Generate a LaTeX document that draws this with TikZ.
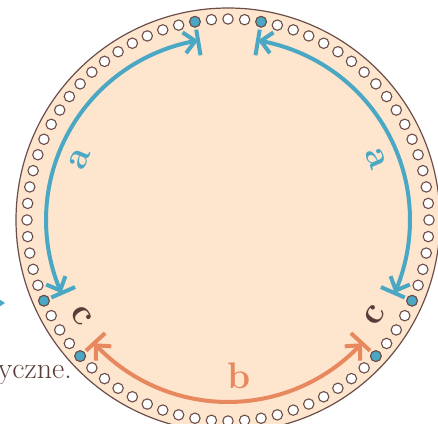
\documentclass[tikz,border=0pt]{standalone}
\usepackage{tikz}
\usetikzlibrary{arrows.meta,bending}
\definecolor{rimbrown}{HTML}{6B4E4A}
\definecolor{plate}{HTML}{FDE5CE}
\definecolor{pinblue}{HTML}{4BA8C4}
\definecolor{cordorange}{HTML}{E8885E}
\definecolor{labelbrown}{HTML}{5A3C39}
\newcommand{\hstep}{4.7368}% 76 holes round the rim

\begin{document}
\begin{tikzpicture}[x=1pt,y=1pt,
  hole/.style={draw=rimbrown,line width=1.1pt,fill=white},
  pin/.style={draw=rimbrown,line width=1.1pt,fill=pinblue},
  barbs/.style={{Straight Barb[length=11pt,width=21pt]}-{Straight Barb[length=11pt,width=21pt]}},
  spanblue/.style={draw=pinblue,line width=4pt,barbs},
  spanorange/.style={draw=cordorange,line width=4pt,barbs},
  tickblue/.style={draw=pinblue,line width=4pt},
  tickorange/.style={draw=cordorange,line width=4pt},
  lbl/.style={font=\fontsize{37}{40}\selectfont\bfseries,inner sep=0pt}]
\useasboundingbox (0,0) rectangle (438,423);
\clip (0,0) rectangle (438,423);
\coordinate (O) at (228,203);
% plate and rim:
\path[draw=rimbrown,line width=1.2pt,fill=plate] (O) circle[radius=212];
\foreach \k in {0,...,75}
  \path[hole] (O) ++({90+\k*\hstep}:201) circle[radius=5.2];
\foreach \k in {2,-2,24,-24,28,-28}
  \path[pin] (O) ++({90+\k*\hstep}:201) circle[radius=5.4];
% ticks at the pins:
\foreach \k in {2,-2,24,-24}
  \draw[tickblue] (O) ++({90+\k*\hstep}:167) -- ++({90+\k*\hstep}:26);
\foreach \k in {28,-28}
  \draw[tickorange] (O) ++({90+\k*\hstep}:167) -- ++({90+\k*\hstep}:26);
% spans:
\draw[spanblue] (O) ++({90+24*\hstep}:182) arc[start angle={90+24*\hstep},end angle={90+2*\hstep},radius=182];
\draw[spanblue] (O) ++({90-2*\hstep}:182) arc[start angle={90-2*\hstep},end angle={90-24*\hstep},radius=182];
\draw[spanorange] (O) ++({90+28*\hstep}:182) arc[start angle={90+28*\hstep},end angle={450-28*\hstep},radius=182];
% labels:
\node[lbl,text=pinblue,rotate=67.5] (aleft) at ([shift={(157.5:160)}]O) {a};
\node[lbl,text=pinblue,rotate=-67.5] (aright) at ([shift={(22.5:160)}]O) {a};
\node[lbl,text=cordorange] (bbottom) at ([shift={(-86:156)}]O) {b};
\node[lbl,text=labelbrown,rotate=-56.8] (cleft) at ([shift={({90+26*\hstep}:175)}]O) {c};
\node[lbl,text=labelbrown,rotate=56.8] (cright) at ([shift={({90-26*\hstep}:175)}]O) {c};
% cut-off pieces at the left edge:
\node[anchor=base east,text=labelbrown,font=\fontsize{30}{33}\selectfont,inner sep=0pt] (tail) at (72,45) {yczne.};
\path[fill=pinblue] (-12,131) -- (5,120) -- (-12,109) -- cycle;
\end{tikzpicture}
\end{document}
